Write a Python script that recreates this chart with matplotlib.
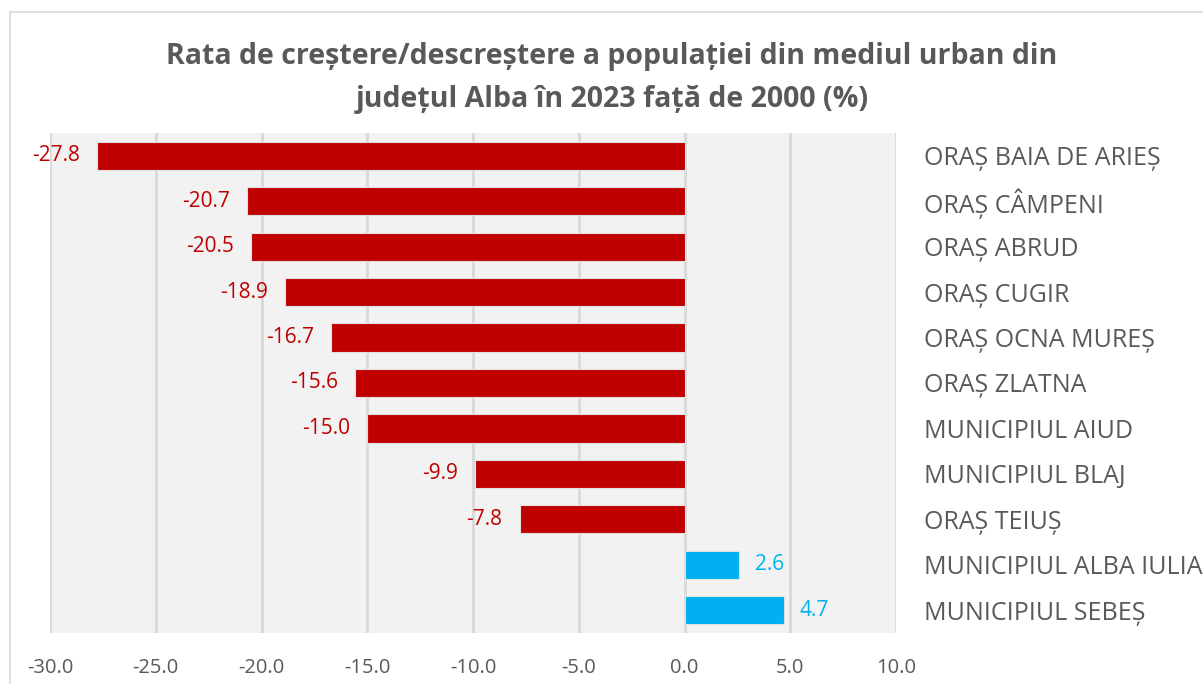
import matplotlib.pyplot as plt
from matplotlib.lines import Line2D

localitati = ['ORAȘ BAIA DE ARIEȘ', 'ORAȘ CÂMPENI', 'ORAȘ ABRUD', 'ORAȘ CUGIR',
              'ORAȘ OCNA MUREȘ', 'ORAȘ ZLATNA', 'MUNICIPIUL AIUD', 'MUNICIPIUL BLAJ',
              'ORAȘ TEIUȘ', 'MUNICIPIUL ALBA IULIA', 'MUNICIPIUL SEBEȘ']
rata = [-27.8, -20.7, -20.5, -18.9, -16.7, -15.6, -15.0, -9.9, -7.8, 2.6, 4.7]
xticks = [-30, -25, -20, -15, -10, -5, 0, 5, 10]

RED = '#C00000'
BLUE = '#00B0F0'
GREY = '#595959'

plt.rcParams['font.family'] = ['Open Sans', 'DejaVu Sans']

fig = plt.figure(figsize=(12.03, 6.84), dpi=100)
ax = fig.add_axes([50 / 1203, 51 / 684, 846 / 1203, 500 / 684])
ax.set_facecolor('#F2F2F2')

colors = [RED if v < 0 else BLUE for v in rata]
ypos = range(len(rata))
ax.barh(ypos, rata, height=0.62, color=colors, edgecolor='#E0E0E0', linewidth=0.8, zorder=3)

for y, v, c in zip(ypos, rata, colors):
    if v < 0:
        ax.text(v - 0.8, y, f'{v:.1f}', ha='right', va='center', color=c, fontsize=15, zorder=4)
    else:
        ax.text(v + 0.75, y, f'{v:.1f}', ha='left', va='center', color=c, fontsize=15, zorder=4)

ax.set_xlim(-30, 10)
ax.set_ylim(len(rata) - 0.5, -0.5)
ax.set_xticks(xticks)
ax.set_xticklabels([f'{t:.1f}' for t in xticks], color=GREY, fontsize=14.5)
ax.set_yticks(list(ypos))
ax.set_yticklabels(localitati, color=GREY, fontsize=18)
ax.yaxis.tick_right()
ax.tick_params(axis='y', length=0, pad=20)
ax.tick_params(axis='x', length=0, pad=18)
ax.grid(axis='x', color='#D9D9D9', linewidth=2, zorder=0)
for s in ax.spines.values():
    s.set_visible(False)

fig.text(612 / 1203, 1 - 78 / 684,
         'Rata de creștere/descreștere a populației din mediul urban din\njudețul Alba în 2023 față de 2000 (%)',
         ha='center', va='center', fontsize=20.5, fontweight='bold', color=GREY, linespacing=1.65)

# chenarul graficului
fig.add_artist(Line2D([10 / 1203, 10 / 1203], [0, 1 - 12 / 684], transform=fig.transFigure,
                      color='#D9D9D9', linewidth=1.2))
fig.add_artist(Line2D([10 / 1203, 1], [1 - 12 / 684, 1 - 12 / 684], transform=fig.transFigure,
                      color='#D9D9D9', linewidth=1.2))

fig.savefig('out.png', dpi=100)
